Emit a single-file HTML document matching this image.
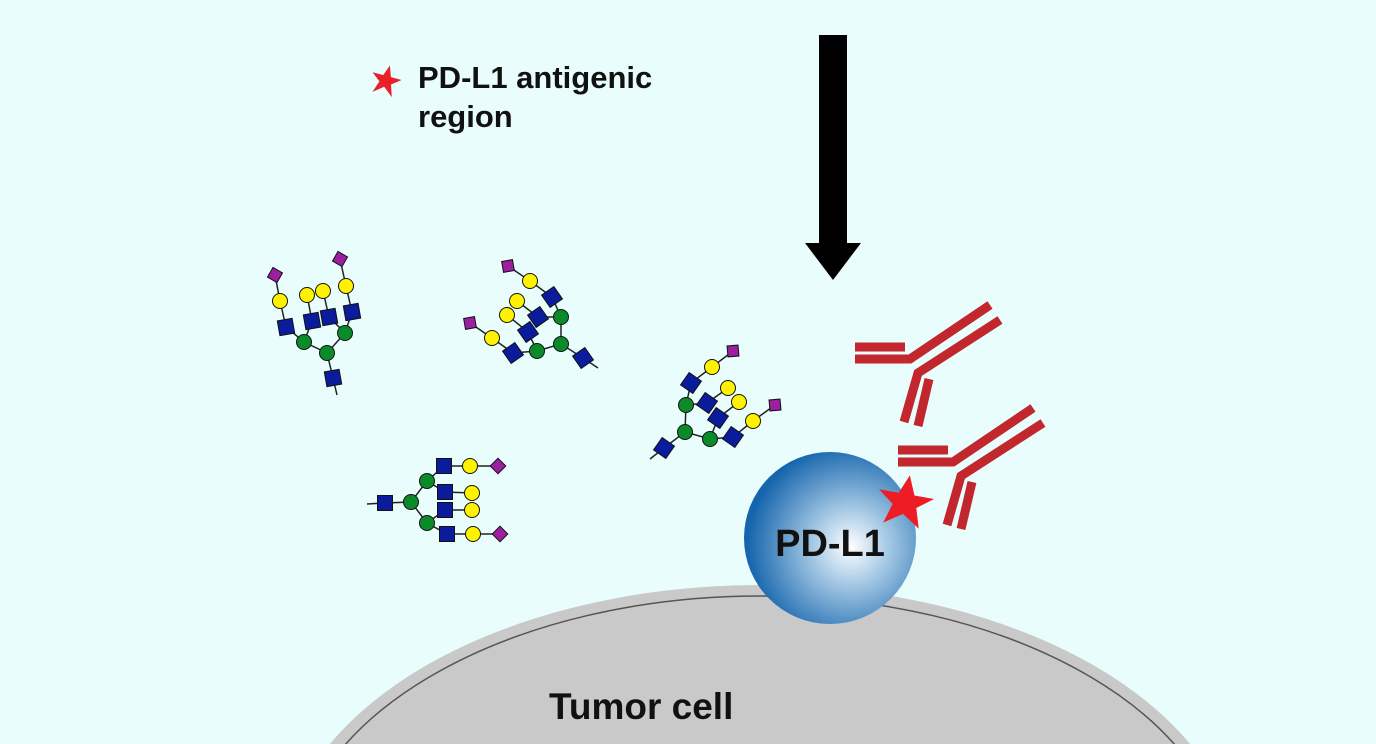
<!DOCTYPE html>
<html><head><meta charset="utf-8"><style>
html,body{margin:0;padding:0;background:#e9fdfd;overflow:hidden;width:1376px;height:744px;}
svg{display:block;}
text{font-family:"Liberation Sans",Arial,sans-serif;font-weight:bold;fill:#111;}
</style></head><body>
<svg width="1376" height="744" viewBox="0 0 1376 744" xmlns="http://www.w3.org/2000/svg">
<defs>
<radialGradient id="g" cx="0.62" cy="0.55" r="0.6">
<stop offset="0" stop-color="#ffffff"/><stop offset="0.35" stop-color="#a9cbe6"/><stop offset="1" stop-color="#1565ad"/>
</radialGradient>
<g id="sq"><rect x="-7.5" y="-7.5" width="15" height="15" fill="#0a1c9c" stroke="#111" stroke-width="1"/></g>
<g id="ci"><circle r="7.5" fill="#fff200" stroke="#111" stroke-width="1"/></g>
<g id="gr"><circle r="7.5" fill="#0b8a2a" stroke="#111" stroke-width="1"/></g>
<g id="pu"><rect x="-5.5" y="-5.5" width="11" height="11" fill="#9b1fa0" stroke="#111" stroke-width="1"/></g>
</defs>
<rect width="1376" height="744" fill="#e9fdfd"/>

<!-- Tumor cell -->
<ellipse cx="760" cy="871" rx="480" ry="286" fill="#c9c9c9"/>
<ellipse cx="760" cy="873" rx="468" ry="277" fill="none" stroke="#555" stroke-width="1.5"/>
<text x="549" y="719" font-size="37">Tumor cell</text>

<!-- Arrow -->
<rect x="819" y="35" width="28" height="210" fill="#000"/>
<polygon points="805,243 861,243 833,280" fill="#000"/>

<!-- legend -->
<polygon points="386,65 390,76 401,76 392,83 396,95 386,87 376,95 380,83 371,76 382,76" fill="#e8202a" transform="rotate(15 386 80)"/>
<text x="418" y="88" font-size="31">PD-L1 antigenic</text>
<text x="418" y="127" font-size="31">region</text>

<!-- Glycan 1 -->
<g stroke="#222" stroke-width="1.5" fill="none">
<polyline points="275,275 280,301 286,327 304,342 327,353 333,378 337,395"/>
<polyline points="307,295 312,321 304,342"/>
<polyline points="323,291 329,317 345,333 327,353"/>
<polyline points="340,259 346,286 352,312 345,333"/>
</g>
<use href="#pu" transform="translate(275,275) rotate(30)"/><use href="#ci" x="280" y="301"/><use href="#sq" transform="translate(286,327) rotate(-10)"/>
<use href="#gr" x="304" y="342"/><use href="#gr" x="327" y="353"/><use href="#sq" transform="translate(333,378) rotate(-10)"/>
<use href="#ci" x="307" y="295"/><use href="#sq" transform="translate(312,321) rotate(-10)"/>
<use href="#ci" x="323" y="291"/><use href="#sq" transform="translate(329,317) rotate(-10)"/><use href="#gr" x="345" y="333"/>
<use href="#pu" transform="translate(340,259) rotate(30)"/><use href="#ci" x="346" y="286"/><use href="#sq" transform="translate(352,312) rotate(-10)"/>

<!-- Glycan 2 -->
<g stroke="#222" stroke-width="1.5" fill="none">
<polyline points="508,266 530,281 552,297 561,317 561,344 583,358 598,368"/>
<polyline points="517,301 538,317 561,317"/>
<polyline points="507,315 528,332 537,351 561,344"/>
<polyline points="470,323 492,338 513,353 537,351"/>
</g>
<use href="#pu" transform="translate(508,266) rotate(-10)"/><use href="#ci" x="530" y="281"/><use href="#sq" transform="translate(552,297) rotate(-35)"/>
<use href="#gr" x="561" y="317"/><use href="#gr" x="561" y="344"/><use href="#sq" transform="translate(583,358) rotate(-35)"/>
<use href="#ci" x="517" y="301"/><use href="#sq" transform="translate(538,317) rotate(-35)"/>
<use href="#ci" x="507" y="315"/><use href="#sq" transform="translate(528,332) rotate(-35)"/><use href="#gr" x="537" y="351"/>
<use href="#pu" transform="translate(470,323) rotate(-10)"/><use href="#ci" x="492" y="338"/><use href="#sq" transform="translate(513,353) rotate(-35)"/>

<!-- Glycan 3 -->
<g stroke="#222" stroke-width="1.5" fill="none">
<polyline points="733,351 712,367 691,383 686,405 685,432 664,448 650,459"/>
<polyline points="728,388 707,403 686,405"/>
<polyline points="739,402 718,418 710,439 685,432"/>
<polyline points="775,405 753,421 733,437 710,439"/>
</g>
<use href="#pu" transform="translate(733,351) rotate(-5)"/><use href="#ci" x="712" y="367"/><use href="#sq" transform="translate(691,383) rotate(35)"/>
<use href="#gr" x="686" y="405"/><use href="#gr" x="685" y="432"/><use href="#sq" transform="translate(664,448) rotate(35)"/>
<use href="#ci" x="728" y="388"/><use href="#sq" transform="translate(707,403) rotate(35)"/>
<use href="#ci" x="739" y="402"/><use href="#sq" transform="translate(718,418) rotate(35)"/><use href="#gr" x="710" y="439"/>
<use href="#pu" transform="translate(775,405) rotate(-5)"/><use href="#ci" x="753" y="421"/><use href="#sq" transform="translate(733,437) rotate(35)"/>

<!-- Glycan 4 -->
<g stroke="#222" stroke-width="1.5" fill="none">
<polyline points="367,504 385,503 411,502 427,481 444,466 470,466 498,466"/>
<polyline points="411,502 427,523 447,534 473,534 500,534"/>
<polyline points="427,481 445,492 472,493"/>
<polyline points="427,523 445,510 472,510"/>
</g>
<use href="#sq" x="385" y="503"/><use href="#gr" x="411" y="502"/><use href="#gr" x="427" y="481"/><use href="#gr" x="427" y="523"/>
<use href="#sq" x="444" y="466"/><use href="#ci" x="470" y="466"/><use href="#pu" transform="translate(498,466) rotate(45)"/>
<use href="#sq" x="445" y="492"/><use href="#ci" x="472" y="493"/>
<use href="#sq" x="445" y="510"/><use href="#ci" x="472" y="510"/>
<use href="#sq" x="447" y="534"/><use href="#ci" x="473" y="534"/><use href="#pu" transform="translate(500,534) rotate(45)"/>

<!-- PD-L1 -->
<circle cx="830" cy="538" r="86" fill="url(#g)"/>
<text x="830" y="556" font-size="38" text-anchor="middle">PD-L1</text>

<!-- Antibodies -->
<g id="ab" stroke="#c1272d" stroke-width="9" fill="none" stroke-linejoin="miter">
<polyline points="855,359 910,359 990,305"/>
<polyline points="1000,320 918,373 904,422"/>
<polyline points="855,347 905,347"/>
<polyline points="929,379 918,426"/>
</g>
<use href="#ab" x="43" y="103"/>

<!-- star on PD-L1 -->
<polygon points="905,475 913,494 933,494 917,506 923,526 905,514 887,526 893,506 877,494 897,494" fill="#ee1c25" transform="rotate(10 905 503)"/>
</svg>
</body></html>
